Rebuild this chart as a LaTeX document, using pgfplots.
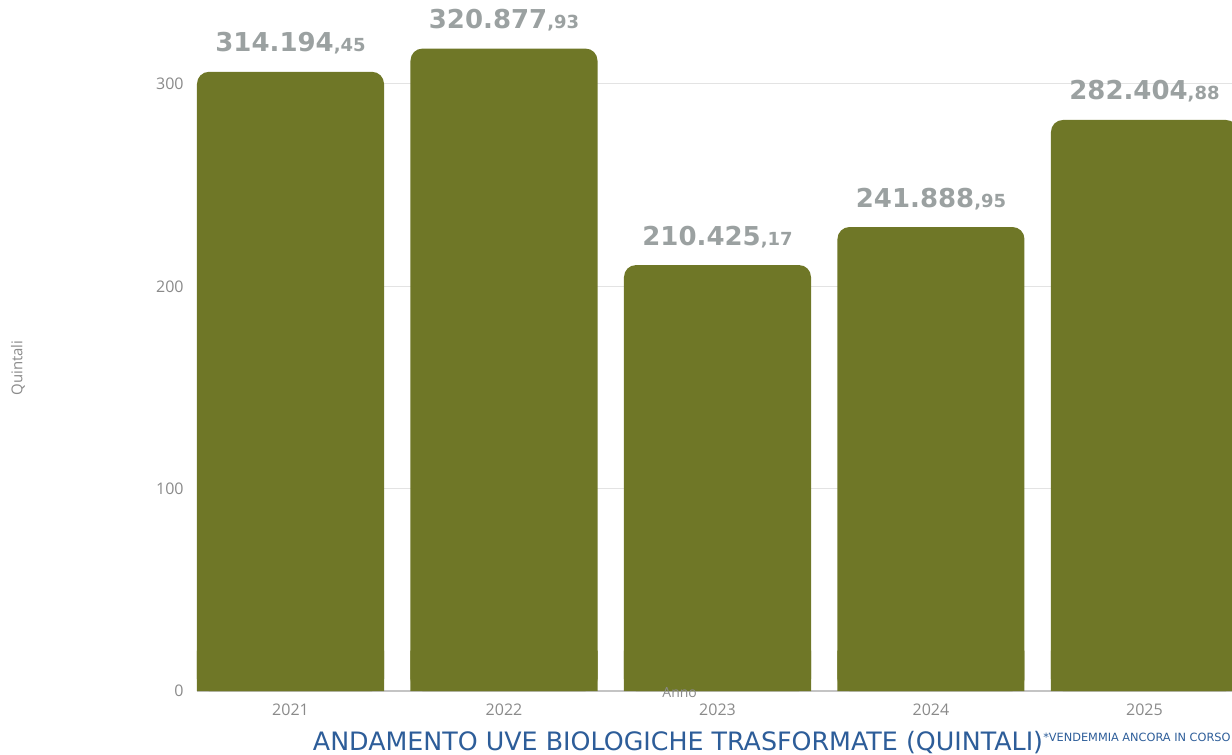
\documentclass[border=0pt]{standalone}
\usepackage{pgfplots}
\usepackage{pgfplotstable}
\pgfplotsset{compat=1.18}
\usepackage{fontspec}
\setmainfont{DejaVu Sans}
\newfontfamily\osans{Open Sans}
\definecolor{barc}{HTML}{6F7727}
\definecolor{lblc}{HTML}{9BA1A1}
\definecolor{tickc}{HTML}{8A8A8A}
\definecolor{titc}{HTML}{2D5D99}
\definecolor{gridc}{HTML}{E3E3E3}
\definecolor{axc}{HTML}{C4C4C4}
\def\splitlbl#1{\expandafter\splitlblA#1\relax}
\def\splitlblA#1,#2\relax{#1{\fontsize{13.5}{14}\selectfont,#2}}
\pgfplotstableread{
x y lbl
0 306.0 314.194,45
1 317.5 320.877,93
2 210.5 210.425,17
3 229.3 241.888,95
4 282.2 282.404,88
}\datatable
\begin{document}
\begin{tikzpicture}
\path[use as bounding box] (-147.75pt,-47.25pt) rectangle (776.25pt,518.25pt);
\begin{axis}[
  at={(0,0)}, anchor=south west, scale only axis,
  width=776.25pt, height=518.25pt,
  xmin=-0.438, xmax=4.41, ymin=0, ymax=341.5,
  axis x line*=bottom, axis y line*=left,
  x axis line style={axc, line width=1.1pt},
  y axis line style={draw=none},
  ytick={0,100,200,300},
  xtick={0,1,2,3,4}, xticklabels={2021,2022,2023,2024,2025},
  major tick length=0pt,
  ymajorgrids, grid style={gridc, line width=0.8pt},
  /pgf/number format/assume math mode=true,
  ticklabel style={font=\osans\fontsize{12}{12}\selectfont, text=tickc},
  yticklabel style={xshift=-6.5pt},
  xticklabel style={yshift=-6pt},
  ybar, bar width=0.876, bar shift=0pt,
]
\addplot[fill=barc, draw=none, rounded corners=9pt,
  point meta=explicit symbolic,
  nodes near coords={\splitlbl\pgfplotspointmeta},
  every node near coord/.append style={font=\bfseries\fontsize{19.5}{20}\selectfont, text=lblc, anchor=base, yshift=15pt, sharp corners},
] table[x=x, y=y, meta=lbl] {\datatable};
\addplot[fill=barc, draw=none, forget plot, y filter/.expression={min(y,20)}]
  table[x=x, y=y] {\datatable};
\end{axis}
\node[anchor=base, font=\osans\fontsize{10.5}{10.5}\selectfont, text=tickc] at (362pt,-4.5pt) {Anno};
\node[rotate=90, font=\osans\fontsize{11.2}{11.2}\selectfont, text=tickc] at (-134.25pt,242.25pt) {Quintali};
\node[anchor=base, font=\fontsize{19}{19}\selectfont, text=titc] at (360.75pt,-44.25pt) {ANDAMENTO UVE BIOLOGICHE TRASFORMATE (QUINTALI)};
\node[anchor=base west, inner sep=0pt, font=\fontsize{8.5}{8.5}\selectfont, text=titc] at (634.5pt,-37.5pt) {*VENDEMMIA ANCORA IN CORSO};
\end{tikzpicture}
\end{document}
